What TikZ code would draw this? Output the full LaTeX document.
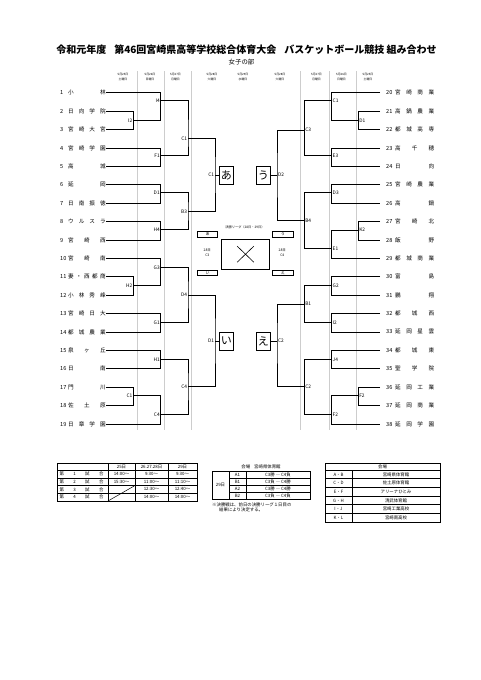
\documentclass[tikz,border=0pt]{standalone}
\usepackage{fontspec}
\setmainfont{Noto Sans CJK JP}
\usetikzlibrary{calc}
\definecolor{sepgray}{RGB}{205,205,205}
\tikzset{
  sep/.style={draw=sepgray,line width=0.8pt},
  brk/.style={draw=black,line width=0.8pt},
  tbl/.style={draw=black,line width=0.5pt},
  lbl/.style={font=\fontsize{4.8}{5}\selectfont,inner sep=0.8pt},
  hdr/.style={font=\fontsize{2.9}{4.4}\selectfont,align=center,inner sep=0pt},
  team/.style={anchor=west,inner sep=0pt,font=\fontsize{5.6}{6}\selectfont},
  final/.style={draw,line width=1pt,minimum width=14pt,minimum height=18pt,
                inner sep=0pt,font=\fontsize{11}{11}\selectfont},
  slot/.style={draw,line width=0.8pt,minimum width=20.4pt,minimum height=5.6pt,
               inner sep=0pt,font=\fontsize{4}{4}\selectfont},
  cell/.style={font=\fontsize{4.4}{4.6}\selectfont,inner sep=0pt},
}
% match points with their labels
\newcommand{\mchL}[4]{\coordinate (#1) at (#2,#3);
  \node[lbl,anchor=east] (#1t) at (#1) {#4};}
\newcommand{\mchR}[4]{\coordinate (#1) at (#2,#3);
  \node[lbl,anchor=west] (#1t) at (#1) {#4};}

\begin{document}
\begin{tikzpicture}[x=1pt,y=-1pt]
\useasboundingbox (0,0) rectangle (481,680);
% title
\node[font=\bfseries\fontsize{10}{10}\selectfont,inner sep=0pt] (title) at (246.5,50)
  {令和元年度\hspace{8pt}第46回宮崎県高等学校総合体育大会\hspace{8pt}バスケットボール競技 組み合わせ};
\node[font=\fontsize{6.4}{6.4}\selectfont,inner sep=0pt] (sub) at (241.5,62) {女子の部};

% day columns
\foreach \x in {137,164,191.5,300.5,329,356}
  \draw[sep] (\x,71) -- (\x,430);
\foreach \x/\d/\w [count=\k] in {123/25/土,150/26/日,175.5/27/月,212/28/火,243/29/水,
                                 280/28/火,316.5/27/月,341.5/26/日,368/25/土}
  \node[hdr] (day\k) at (\x,77) {5月{\d}日\\{\w}曜日};

% teams
\foreach \n/\nm in {1/小 林,2/日 向 学 院,3/宮 崎 大 宮,4/宮 崎 学 園,5/高 城,6/延 岡,
    7/日 南 振 徳,8/ウ ル ス ラ,9/宮 崎 西,10/宮 崎 南,11/妻 ・ 西 都 商,12/小 林 秀 峰,
    13/宮 崎 日 大,14/都 城 農 業,15/泉 ヶ 丘,16/日 南,17/門 川,18/佐 土 原,19/日 章 学 園}
  \node[team] (t\n) at (60,{92.7+18.4*(\n-1)})
    {\makebox[8pt][l]{\n}\makebox[37.5pt][s]{\nm}\hspace{3.6pt}};
\foreach \n/\nm in {20/宮 崎 商 業,21/高 鍋 農 業,22/都 城 高 専,23/高 千 穂,24/日 向,
    25/宮 崎 農 業,26/高 鍋,27/宮 崎 北,28/飯 野,29/都 城 商 業,30/富 島,31/鵬 翔,
    32/都 城 西,33/延 岡 星 雲,34/都 城 東,35/聖 学 院,36/延 岡 工 業,37/延 岡 商 業,
    38/延 岡 学 園}
  \node[team] (t\n) at (380,{92.7+18.4*(\n-20)})
    {\hspace{6pt}\makebox[9pt][l]{\n}\makebox[39pt][s]{\nm}};

% left half
\mchL{li2}{133.3}{120.3}{I2}   \mchL{li4}{160.7}{100.7}{I4}
\mchL{lf1}{160.7}{155.5}{F1}   \mchL{lc1}{188}{138.3}{C1}
\mchL{ld1}{160.7}{192.7}{D1}   \mchL{lh4}{160.7}{229.3}{H4}
\mchL{lb3}{188}{211.7}{B3}     \mchL{lfu}{215}{175}{C1}
\mchL{lh2}{133.3}{285.7}{H2}   \mchL{lg3}{160.7}{267.3}{G3}
\mchL{lg1}{160.7}{322.3}{G1}   \mchL{ld4}{188}{295}{D4}
\mchL{lh1}{160.7}{359.3}{H1}   \mchL{lc1b}{133.3}{395.7}{C1}
\mchL{lc4b}{160.7}{414.3}{C4}  \mchL{lc4}{188}{386.7}{C4}
\mchL{lfd}{215}{341}{D1}
\draw[brk] (t2.east) -| (li2) |- (t3.east);
\draw[brk] (t1.east) -| (li4) |- (li2);
\draw[brk] (t4.east) -| (lf1) |- (t5.east);
\draw[brk] (li4) -| (lc1) |- (lf1);
\draw[brk] (t6.east) -| (ld1) |- (t7.east);
\draw[brk] (t8.east) -| (lh4) |- (t9.east);
\draw[brk] (ld1) -| (lb3) |- (lh4);
\draw[brk] (lc1) -| (lfu) |- (lb3);
\draw[brk] (t11.east) -| (lh2) |- (t12.east);
\draw[brk] (t10.east) -| (lg3) |- (lh2);
\draw[brk] (t13.east) -| (lg1) |- (t14.east);
\draw[brk] (lg3) -| (ld4) |- (lg1);
\draw[brk] (t15.east) -| (lh1) |- (t16.east);
\draw[brk] (t17.east) -| (lc1b) |- (t18.east);
\draw[brk] (lc1b) -| (lc4b) |- (t19.east);
\draw[brk] (lh1) -| (lc4) |- (lc4b);
\draw[brk] (ld4) -| (lfd) |- (lc4);

% right half
\mchR{rd1}{358.3}{120.3}{D1}   \mchR{rc1}{331.7}{100.7}{C1}
\mchR{re3}{331.7}{155.5}{E3}   \mchR{rc3}{304.3}{130}{C3}
\mchR{rd3}{331.7}{192.7}{D3}   \mchR{rk2}{358.3}{230}{K2}
\mchR{re1}{331.7}{248.3}{E1}   \mchR{rb4}{304.3}{220.7}{B4}
\mchR{rfu}{277}{175}{D2}
\mchR{rg2}{331.7}{285.7}{G2}   \mchR{ri2}{331.7}{322.3}{I2}
\mchR{rb1}{304.3}{304}{B1}     \mchR{rj4}{331.7}{359.3}{J4}
\mchR{rf2b}{358.3}{395.7}{F2}  \mchR{rf2}{331.7}{414.3}{F2}
\mchR{rc2}{304.3}{386.7}{C2}   \mchR{rfd}{277}{341}{C2}
\draw[brk] (t21.west) -| (rd1) |- (t22.west);
\draw[brk] (t20.west) -| (rc1) |- (rd1);
\draw[brk] (t23.west) -| (re3) |- (t24.west);
\draw[brk] (rc1) -| (rc3) |- (re3);
\draw[brk] (t25.west) -| (rd3) |- (t26.west);
\draw[brk] (t27.west) -| (rk2) |- (t28.west);
\draw[brk] (rk2) -| (re1) |- (t29.west);
\draw[brk] (rd3) -| (rb4) |- (re1);
\draw[brk] (rc3) -| (rfu) |- (rb4);
\draw[brk] (t30.west) -| (rg2) |- (t31.west);
\draw[brk] (t32.west) -| (ri2) |- (t33.west);
\draw[brk] (rg2) -| (rb1) |- (ri2);
\draw[brk] (t34.west) -| (rj4) |- (t35.west);
\draw[brk] (t36.west) -| (rf2b) |- (t37.west);
\draw[brk] (rf2b) -| (rf2) |- (t38.west);
\draw[brk] (rj4) -| (rc2) |- (rf2);
\draw[brk] (rb1) -| (rfd) |- (rc2);

% semi-final blocks
\node[final] (fa) at (226.3,175) {あ};
\node[final] (fu) at (263.3,175) {う};
\node[final] (fi) at (226.3,341) {い};
\node[final] (fe) at (263.3,341) {え};
\draw[brk] (lfu) -- (fa);
\draw[brk] (lfd) -- (fi);
\draw[brk] (rfu) -- (fu);
\draw[brk] (rfd) -- (fe);

% final league
\node[font=\fontsize{3.2}{3.2}\selectfont,inner sep=0pt] (lg) at (245,227) {決勝リーグ（28日・29日）};
\node[slot] (sa) at (207.5,234.5) {あ};
\node[slot] (su) at (282.8,234.5) {う};
\node[slot] (si) at (207.5,273) {い};
\node[slot] (se) at (282.8,273) {え};
\node[draw,line width=0.6pt,minimum width=47.6pt,minimum height=29.7pt,inner sep=0pt] (xb) at (245.5,254.2) {};
\draw[line width=0.6pt] ($(xb.center)+(-8.3,-8)$) -- ($(xb.center)+(8.3,8)$)
                        ($(xb.center)+(8.3,-8)$) -- ($(xb.center)+(-8.3,8)$);
\node[hdr,font=\fontsize{3.4}{5}\selectfont] (c3) at (207.3,252.5) {28日\\C3};
\node[hdr,font=\fontsize{3.4}{5}\selectfont] (c4) at (282.3,252.5) {28日\\C4};

% game times
\draw[tbl] (57,463) rectangle (197,501);
\foreach \y in {470,477.75,485.5,493.25} \draw[tbl] (57,\y) -- (197,\y);
\foreach \x in {108,135,168} \draw[tbl] (\x,463) -- (\x,501);
\draw[tbl] (108,501) -- (135,485.5);
\node[cell] (h25) at (121.5,466.5) {25日};
\node[cell] (h26) at (151.5,466.5) {26.27.28日};
\node[cell] (h29) at (182.5,466.5) {29日};
\foreach \k/\a/\b/\c in {1/14:00〜/9:30〜/9:30〜,2/15:30〜/11:00〜/11:10〜,
                         3//12:30〜/12:40〜,4//14:00〜/14:00〜}{
  \node[cell] (g\k) at (81.5,{473.9+7.75*(\k-1)}) {\makebox[44pt][s]{第 {\k} 試 合}};
  \node[cell] (ga\k) at (121.5,{473.9+7.75*(\k-1)}) {\a};
  \node[cell] (gb\k) at (151.5,{473.9+7.75*(\k-1)}) {\b};
  \node[cell] (gc\k) at (182.5,{473.9+7.75*(\k-1)}) {\c};
}

% final day games
\node[cell] (vn) at (261,466.5) {会場\hspace{4pt}宮崎県体育館};
\draw[tbl] (212,471) rectangle (310,499.4);
\foreach \y in {478.1,485.2,492.3} \draw[tbl] (229,\y) -- (310,\y);
\foreach \x in {229,246} \draw[tbl] (\x,471) -- (\x,499.4);
\node[cell] (d29) at (220.5,485.2) {29日};
\foreach \k/\m/\p in {1/A1/C3勝 ― C4負,2/B1/C3負 ― C4勝,3/A2/C3勝 ― C4勝,4/B2/C3負 ― C4負}{
  \node[cell] (fm\k) at (237.5,{474.6+7.1*(\k-1)}) {\m};
  \node[cell] (fp\k) at (278,{474.6+7.1*(\k-1)}) {\p};
}
\node[cell,align=left,anchor=north west] (nt) at (212,502.5)
  {※決勝戦は、前日の決勝リーグ１日目の\\\hspace{7pt}結果により決定する。};

% venues
\draw[tbl] (325,463) rectangle (440,522);
\foreach \y in {470,478.7,487.3,496,504.7,513.3} \draw[tbl] (325,\y) -- (440,\y);
\draw[tbl] (352,470) -- (352,522);
\node[cell] (vh) at (382.5,466.5) {会場};
\foreach \k/\c/\v in {1/A・B/宮崎県体育館,2/C・D/佐土原体育館,3/E・F/アリーナひとみ,
                      4/G・H/清武体育館,5/I・J/宮崎工業高校,6/K・L/宮崎南高校}{
  \node[cell] (vc\k) at (338.5,{474.4+8.67*(\k-1)}) {\c};
  \node[cell] (vv\k) at (396,{474.4+8.67*(\k-1)}) {\v};
}
\end{tikzpicture}
\end{document}
